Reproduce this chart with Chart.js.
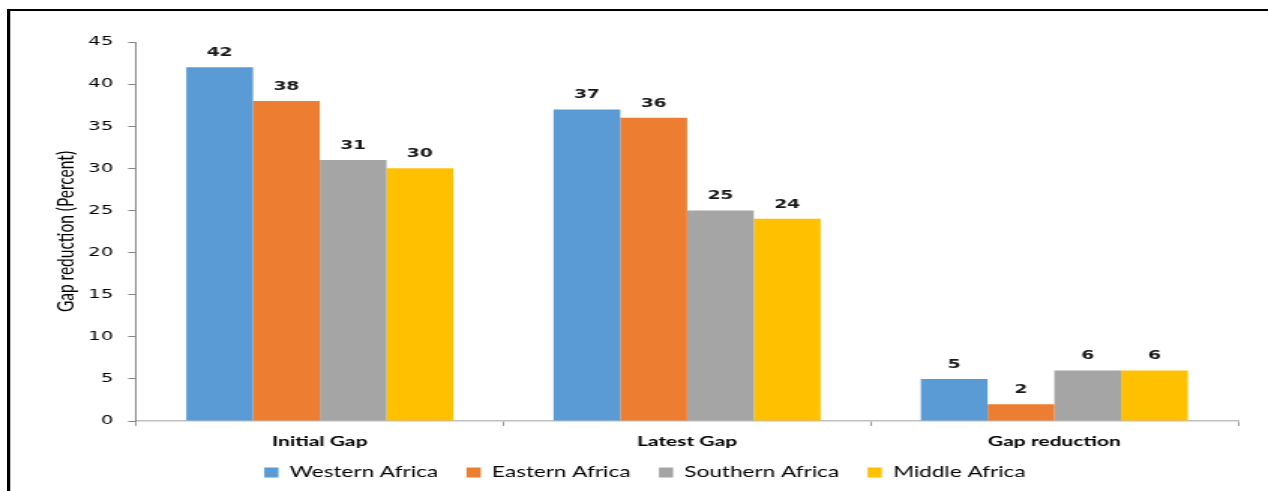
<!DOCTYPE html>
<html>
<head>
<meta charset="utf-8">
<script src="https://cdn.jsdelivr.net/npm/chart.js@4"></script>
<style>
  html, body { margin: 0; padding: 0; background: #ffffff; }
  #wrap { position: relative; width: 1268px; height: 491px; overflow: hidden; background: #fff; }
  #c { position: absolute; left: 0; top: 0; width: 1268px; height: 491px; }
  .ln { position: absolute; }
</style>
</head>
<body>
<div id="wrap">
  <canvas id="c" width="845" height="491" style="width:1268px;height:491px;"></canvas>
  <div class="ln" style="left:7px;top:9px;width:1261px;height:2px;background:#000;"></div>
  <div class="ln" style="left:7px;top:9px;width:2.5px;height:482px;background:#000;"></div>
  <div class="ln" style="left:9.5px;top:11px;width:1.5px;height:480px;background:#bdbdbd;"></div>
</div>
<script>
const categories = ['Initial Gap', 'Latest Gap', 'Gap reduction'];
const westernAfrica = [42, 37, 5];
const easternAfrica = [38, 36, 2];
const southernAfrica = [31, 25, 6];
const middleAfrica = [30, 24, 6];
const seriesNames = ['Western Africa', 'Eastern Africa', 'Southern Africa', 'Middle Africa'];
const seriesColors = ['#5B9BD5', '#ED7D31', '#A5A5A5', '#FFC000'];
const yMin = 0, yMax = 45, yStep = 5;

const valueLabels = {
  id: 'valueLabels',
  afterDatasetsDraw(chart) {
    const ctx = chart.ctx;
    ctx.save();
    ctx.font = 'bold 12.5px "DejaVu Sans"';
    ctx.fillStyle = '#1a1a1a';
    ctx.textAlign = 'center';
    ctx.textBaseline = 'alphabetic';
    chart.data.datasets.forEach((ds, i) => {
      chart.getDatasetMeta(i).data.forEach((el, j) => {
        ctx.fillText(String(ds.data[j]), el.x, el.y - 11);
      });
    });
    ctx.restore();
  }
};

const seriesData = [westernAfrica, easternAfrica, southernAfrica, middleAfrica];

new Chart(document.getElementById('c'), {
  type: 'bar',
  data: {
    labels: categories,
    datasets: seriesNames.map((n, i) => ({
      label: n,
      data: seriesData[i],
      backgroundColor: seriesColors[i],
      borderWidth: 0,
      barPercentage: 1.0,
      categoryPercentage: 0.727
    }))
  },
  options: {
    responsive: false,
    animation: false,
    devicePixelRatio: 1,
    layout: { padding: { top: 42, right: 20, bottom: 1, left: 34.5 } },
    plugins: {
      tooltip: { enabled: false },
      legend: {
        position: 'bottom',
        labels: {
          boxWidth: 9.5,
          boxHeight: 10,
          padding: 19,
          color: '#000',
          font: { family: 'Lato', size: 15 }
        }
      }
    },
    scales: {
      x: {
        afterFit: (s) => { s.height = 25; s._computeLabelArea = () => undefined; },
        grid: { display: true, drawOnChartArea: false, drawTicks: true, tickLength: 5, color: '#9a9a9a', offset: true },
        border: { display: true, color: '#c0c0c0', width: 1.5 },
        ticks: { color: '#000', padding: 7, font: { family: 'Lato', size: 14, weight: 'bold' } }
      },
      y: {
        min: yMin, max: yMax,
        afterFit: (s) => { s.width = 56.2; },
        grid: { display: true, drawOnChartArea: false, drawTicks: true, tickLength: 5.3, color: '#868686' },
        border: { display: true, color: '#868686', width: 1 },
        ticks: { stepSize: yStep, color: '#000', padding: 10, font: { family: 'DejaVu Sans', size: 13 } },
        title: {
          display: true,
          text: 'Gap reduction (Percent)',
          color: '#000',
          padding: { top: 0, bottom: 0 },
          font: { family: 'Lato', size: 15.5 }
        }
      }
    }
  },
  plugins: [valueLabels]
});
</script>
</body>
</html>
